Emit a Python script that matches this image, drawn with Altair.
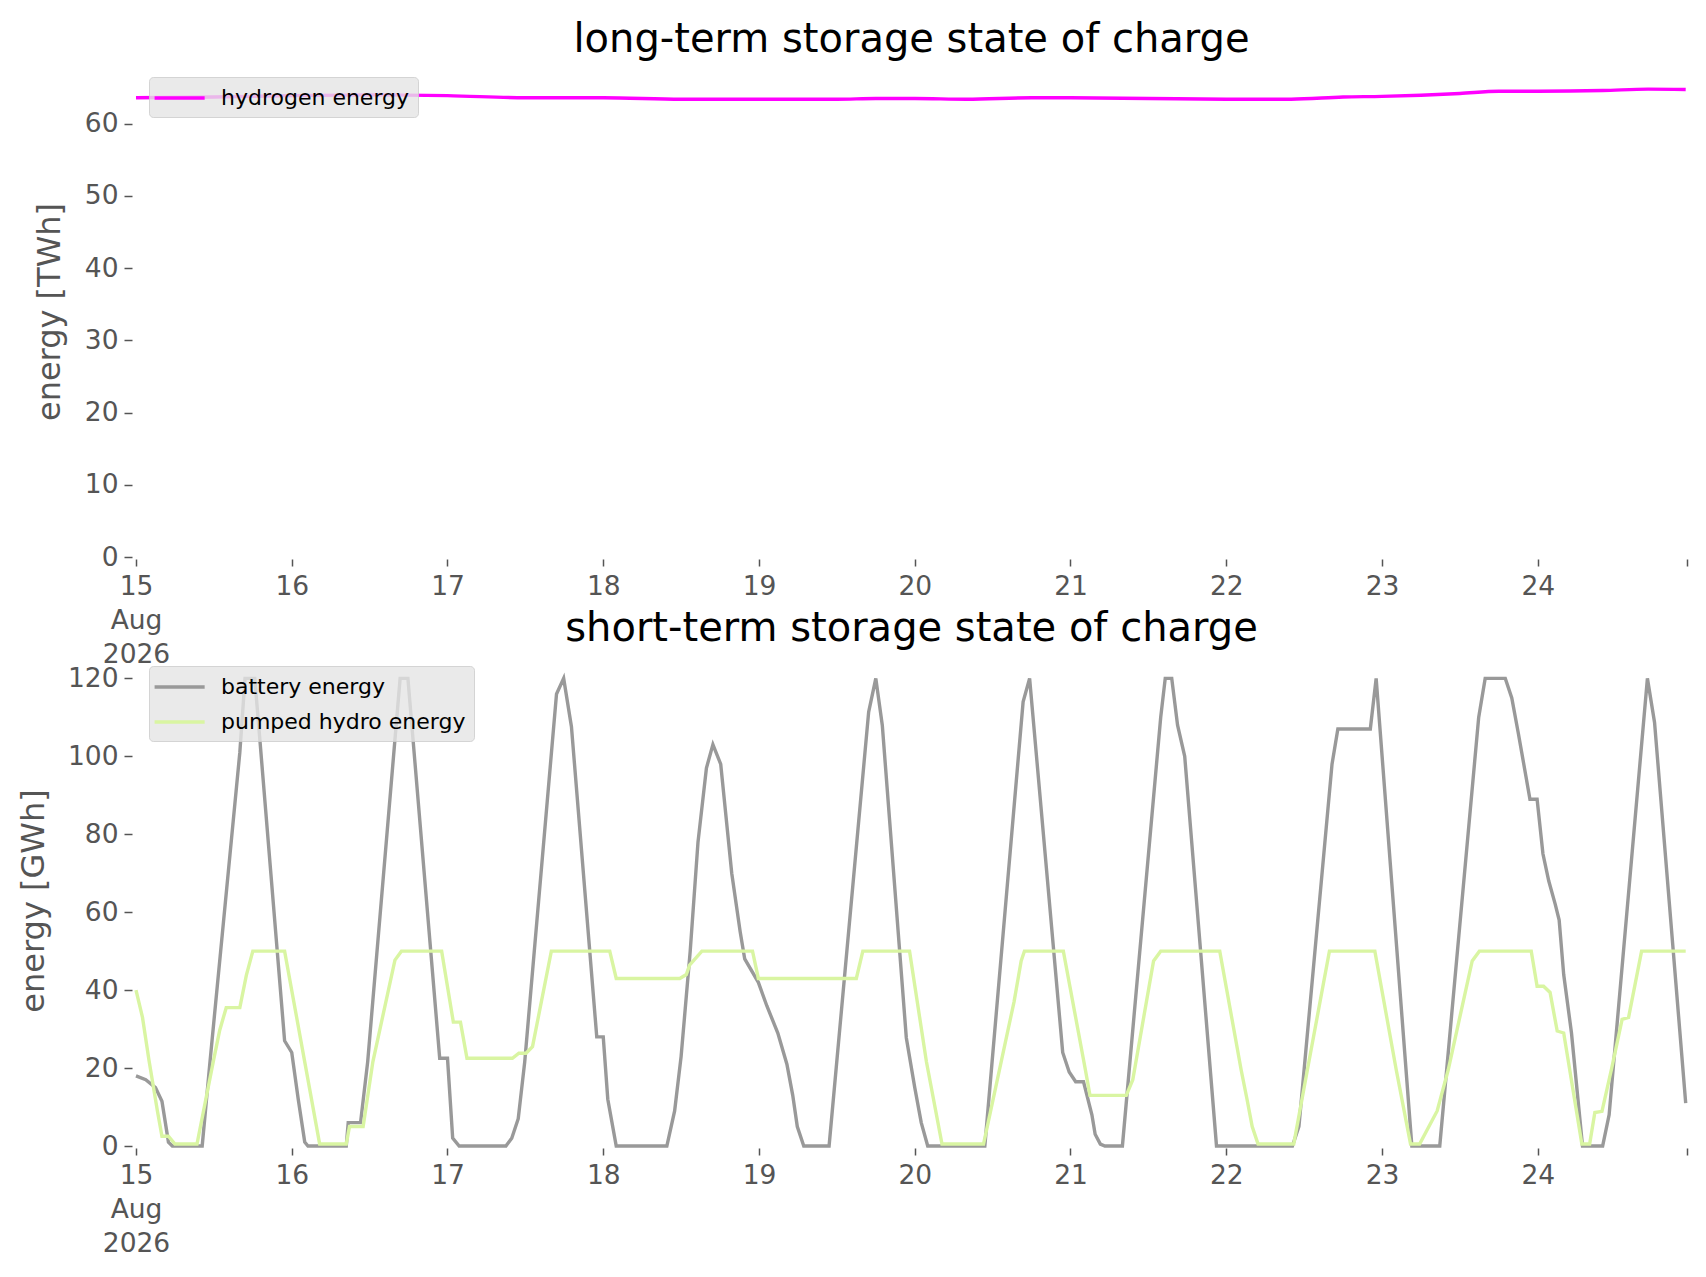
import altair as alt
import pandas as pd

# hours since 15 Aug 2026 00:00
bat_h = [0, 1.5, 3, 4, 5, 5.6, 10.2, 11.4, 16, 16.8,
         18.3, 19.1, 22.9, 24, 25, 26, 26.5, 32.4, 32.7, 34.6,
         35.7, 40.7, 41.9, 46.8, 48, 48.8, 49.8, 57, 57.9, 58.9,
         59.9, 64.8, 65.9, 67.1, 71, 72, 72.7, 74, 81.8, 83,
         84, 85.4, 86.6, 87.9, 88.9, 90.1, 91.8, 93.1, 93.8, 95.9,
         97.2, 98.9, 100.3, 101.2, 101.9, 102.9, 106.8, 112.9, 114, 115,
         118.7, 120, 121, 122, 130.8, 136.7, 137.7, 142.8, 143.8, 144.8,
         146, 147.3, 147.8, 148.6, 149.3, 152, 157.9, 158.6, 159.6, 160.5,
         161.6, 166.5, 178.2, 179.2, 184.3, 185.2, 190.2, 191.1, 196.6, 200.9,
         206.9, 207.9, 211, 212, 213, 214.8, 215.9, 216.8, 217.7, 218.7,
         219.3, 220, 221.2, 222.9, 226, 227, 232.9, 234, 238.8]
bat_v = [18, 17, 15, 11.5, 1, 0, 0, 21.6, 101, 120,
         120, 104, 27, 24, 12, 1, 0, 0, 6, 6,
         21.6, 120, 120, 22.5, 22.5, 2, 0, 0, 2, 7,
         21.6, 116, 120, 107.6, 28, 28, 12, 0, 0, 9,
         23, 50, 78, 97, 103, 98, 70, 55, 48, 42,
         36, 29, 21, 13, 5, 0, 0, 111.4, 120, 108,
         27.8, 15, 6, 0, 0, 114, 120, 24, 19, 16.5,
         16.5, 8, 3, 0.5, 0, 0, 110, 120, 120, 108,
         100, 0, 0, 5, 98, 107, 107, 120, 0, 0,
         110, 120, 120, 115, 106, 89, 89, 75, 68, 62,
         58, 44, 29, 0, 0, 8, 120, 108.7, 11]

ph_h = [0, 1, 2, 3.3, 4, 5, 6, 9.4, 11.9, 12.9,
        13.9, 16, 17, 18, 22.9, 26, 28.3, 32.4, 32.9, 35,
        36.5, 39.9, 40.9, 47.1, 48.9, 50, 51, 58, 59, 60.1,
        61.1, 64, 73, 74, 83.8, 84.8, 85.3, 87.2, 95, 95.9,
        111, 112, 119.2, 121.8, 124.2, 130.6, 135.3, 136.4, 136.9, 142.9,
        146.3, 147, 152.6, 153.6, 156.8, 157.9, 167, 170.3, 171.2, 172,
        172.9, 178.4, 180.5, 183.9, 190.9, 194.2, 196.4, 197.8, 200.5, 202.2,
        205.9, 207, 215, 215.9, 216.9, 217.9, 219, 220, 222.8, 224,
        224.8, 225.9, 227.4, 229, 230, 232, 238.8]
ph_v = [40, 33, 22, 9, 2.5, 2.5, 0.5, 0.5, 21.6, 29.7,
        35.5, 35.5, 43.8, 50, 50, 21.6, 0.5, 0.5, 5, 5,
        21.6, 47.7, 50, 50, 31.8, 31.8, 22.5, 22.5, 23.8, 23.8,
        25.5, 50, 50, 43, 43, 44, 46.4, 50, 50, 43,
        43, 50, 50, 21.6, 0.5, 0.5, 37, 47.5, 50, 50,
        19.5, 13, 13, 17, 47.5, 50, 50, 19.5, 12, 5,
        0.5, 0.5, 19.5, 50, 50, 19.5, 0.5, 0.5, 9, 19.5,
        47.5, 50, 50, 41, 41, 39.4, 29.5, 29, 0.5, 0.5,
        8.6, 8.9, 20, 32.5, 33, 50, 50]

h2_h = [0, 12, 24, 36, 48, 60, 72, 84, 96, 108, 114, 120, 128, 138, 144,
        156, 168, 178, 186, 192, 204, 210, 216, 226, 233, 238.8]
h2_v = [63.6, 63.7, 63.9, 64.0, 63.9, 63.6, 63.6, 63.4, 63.4, 63.4, 63.5, 63.5,
        63.4, 63.6, 63.6, 63.5, 63.4, 63.4, 63.7, 63.8, 64.2, 64.5, 64.5, 64.6,
        64.8, 64.75]

x_ticks = [0, 24, 48, 72, 96, 120, 144, 168, 192, 216, 239]
top_y_ticks = [0, 10, 20, 30, 40, 50, 60]
bot_y_ticks = [0, 20, 40, 60, 80, 100, 120]

FONT = "DejaVu Sans"
GREY = "#555555"

long_df = pd.DataFrame({"hour": h2_h, "value": h2_v, "series": "hydrogen energy"})
short_df = pd.concat([
    pd.DataFrame({"hour": bat_h, "value": bat_v, "series": "battery energy", "k": 0}),
    pd.DataFrame({"hour": ph_h, "value": ph_v, "series": "pumped hydro energy", "k": 1}),
])

W, H = 1551, 491


def x_axis():
    return alt.Axis(
        values=x_ticks,
        labelExpr="datum.value == 0 ? ['15', 'Aug', '2026'] : (datum.value >= 239 ? '' : '' + (15 + datum.value / 24))",
        title=None, grid=False, domain=False,
        tickColor=GREY, tickSize=7, tickWidth=1.5, offset=2,
        labelFont=FONT, labelFontSize=26.5, labelColor=GREY, labelPadding=7,
        labelLineHeight=34, labelOverlap=False, labelFlush=False, labelBaseline="top",
    )


def y_axis(vals, title, tx):
    return alt.Axis(
        values=vals, title=title, titleX=tx, titleY=H / 2, titleAngle=270,
        titleBaseline="middle", titleAlign="center",
        titleFont=FONT, titleFontSize=32, titleFontWeight="normal", titleColor=GREY,
        grid=False, domain=False, tickColor=GREY, tickSize=8, tickWidth=1.5, offset=4,
        labelFont=FONT, labelFontSize=26.5, labelColor=GREY, labelPadding=6,
    )


def legend():
    return alt.Legend(
        orient="none", legendX=13, legendY=11, title=None,
        fillColor="rgba(229,229,229,0.8)", strokeColor="rgba(204,204,204,0.8)",
        cornerRadius=4, padding=8, symbolType="M-1.4,0H3.15", symbolSize=484,
        symbolStrokeWidth=3.4, labelFont=FONT, labelFontSize=22, labelColor="black",
        labelOffset=38, rowPadding=11, labelLimit=500,
    )


def title(t):
    return alt.TitleParams(t, font=FONT, fontSize=40, fontWeight="normal", color="black",
                           offset=14, dy=40, baseline="alphabetic", anchor="middle", frame="group")


top = alt.Chart(long_df).mark_line(strokeWidth=3.4, interpolate="monotone").encode(
    x=alt.X("hour:Q", scale=alt.Scale(domain=[0, 239], nice=False, zero=False), axis=x_axis()),
    y=alt.Y("value:Q", scale=alt.Scale(domain=[0, 68], nice=False), axis=y_axis(top_y_ticks, "energy [TWh]", -83)),
    color=alt.Color("series:N", scale=alt.Scale(domain=["hydrogen energy"], range=["#ff00ff"]), legend=legend()),
).properties(width=W, height=H, title=title("long-term storage state of charge"))

bottom = alt.Chart(short_df).mark_line(strokeWidth=3.4).encode(
    x=alt.X("hour:Q", scale=alt.Scale(domain=[0, 239], nice=False, zero=False), axis=x_axis()),
    y=alt.Y("value:Q", scale=alt.Scale(domain=[0, 126], nice=False), axis=y_axis(bot_y_ticks, "energy [GWh]", -99)),
    color=alt.Color("series:N", scale=alt.Scale(domain=["battery energy", "pumped hydro energy"],
                                                range=["#999999", "#d9f5a2"]), legend=legend()),
    order=alt.Order("k:Q"),
).properties(width=W, height=H, title=title("short-term storage state of charge"))

chart = alt.vconcat(top, bottom, spacing=98, bounds="flush").resolve_scale(
    color="independent"
).properties(
    padding={"left": 9, "top": 12, "right": 3, "bottom": 5}, background="white"
).configure_view(stroke=None, strokeWidth=0)

chart.save("out.html", embed_options={"renderer": "svg", "actions": False})
